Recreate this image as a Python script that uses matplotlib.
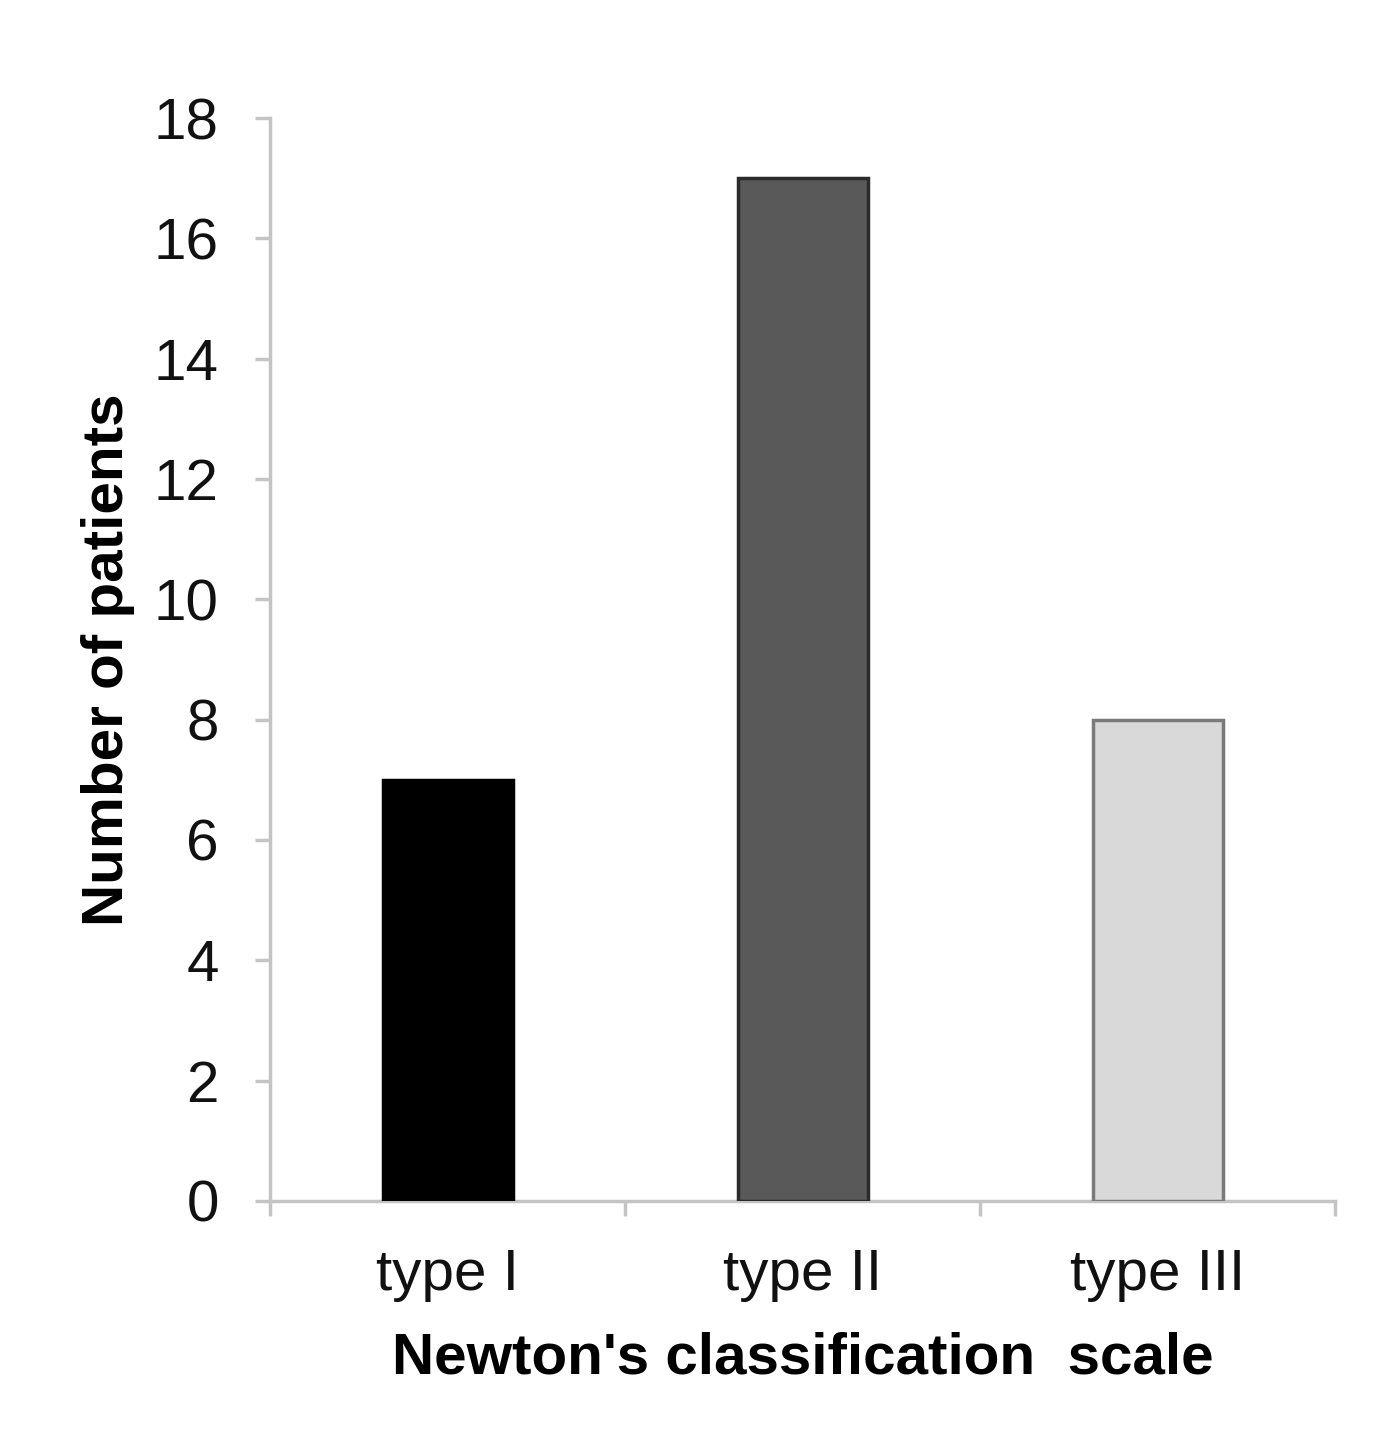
import matplotlib.pyplot as plt
import numpy as np

plt.rcParams['font.family'] = ['Liberation Sans', 'DejaVu Sans']

# Data
categories = ['type I', 'type II', 'type III']
patients = [7, 17, 8]
bar_colors = ['#000000', '#595959', '#d9d9d9']
edge_colors = ['#000000', '#2b2b2b', '#7a7a7a']

fig = plt.figure(figsize=(14, 14.41), dpi=100)
ax = fig.add_axes([0.1929, 0.1666, 0.7607, 0.7515])

x = np.arange(len(categories))
ax.bar(x, patients, width=0.366, color=bar_colors, edgecolor=edge_colors,
       linewidth=2.5, zorder=3)

ax.set_xlim(-0.5, 2.5)
ax.set_ylim(0, 18)
ax.set_yticks(np.arange(0, 19, 2))

# spines
for s in ['top', 'right']:
    ax.spines[s].set_visible(False)
for s in ['left', 'bottom']:
    ax.spines[s].set_color('#c4c4c4')
    ax.spines[s].set_linewidth(2.5)

# y ticks
ax.tick_params(axis='y', direction='out', length=11, width=2.5, color='#c4c4c4',
               labelsize=42, pad=26, labelcolor='#111111')

# x ticks: labels at centers, tick marks at category boundaries
ax.set_xticks(x)
ax.set_xticklabels(categories)
ax.set_xticks(np.arange(-0.5, 3, 1), minor=True)
ax.tick_params(axis='x', which='major', length=0, labelsize=42, pad=34,
               labelcolor='#111111')
ax.tick_params(axis='x', which='minor', direction='out', length=11, width=2.5,
               color='#c4c4c4')

ax.set_ylabel('Number of patients', fontsize=42, fontweight='bold', labelpad=13)
ax.set_xlabel("Newton's classification  scale", fontsize=42, fontweight='bold',
              labelpad=21)

fig.savefig('out.png', dpi=100)
